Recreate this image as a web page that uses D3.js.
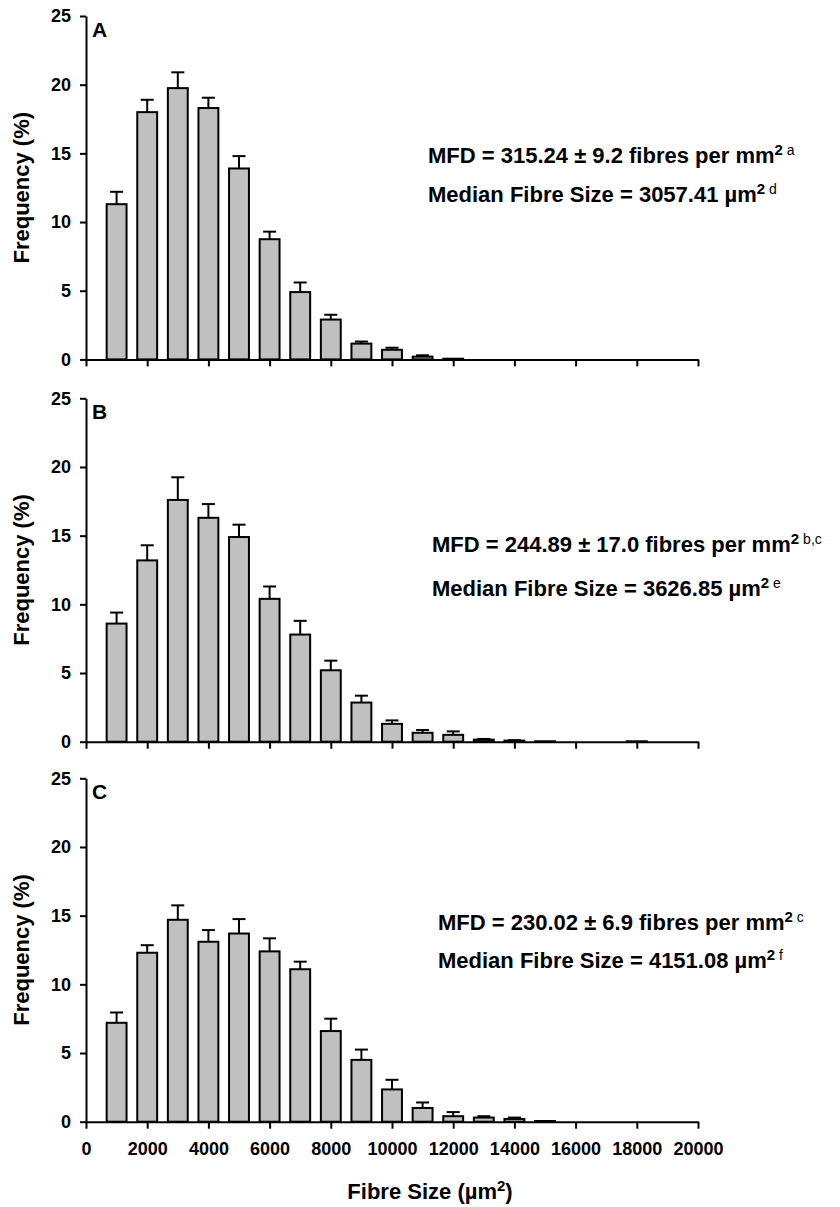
<!DOCTYPE html>
<html>
<head>
<meta charset="utf-8">
<script src="https://cdn.jsdelivr.net/npm/d3@7"></script>
<style>
  html, body { margin: 0; padding: 0; background: #fff; }
  svg { display: block; }
  text { font-family: "Liberation Sans", Arial, sans-serif; }
</style>
</head>
<body>
<svg id="chart" width="840" height="1207"></svg>
<script>
// ---------------- DATA ----------------
const sizeBins = [1000, 2000, 3000, 4000, 5000, 6000, 7000, 8000, 9000, 10000,
                  11000, 12000, 13000, 14000, 15000, 16000, 17000, 18000];

const panelLabels = ["A", "B", "C"];

const meanA = [11.3, 18.0, 19.75, 18.3, 13.9, 8.75, 4.9, 2.9, 1.15, 0.7, 0.2, 0.05, 0, 0, 0, 0, 0, 0];
const semA  = [0.9, 0.9, 1.15, 0.75, 0.9, 0.55, 0.7, 0.35, 0.15, 0.15, 0.1, 0, 0, 0, 0, 0, 0, 0];

const meanB = [8.6, 13.2, 17.6, 16.3, 14.9, 10.4, 7.8, 5.2, 2.85, 1.3, 0.65, 0.5, 0.15, 0.08, 0.03, 0, 0, 0.03];
const semB  = [0.8, 1.1, 1.65, 1.0, 0.9, 0.9, 1.0, 0.7, 0.5, 0.25, 0.2, 0.25, 0.05, 0.03, 0, 0, 0, 0];

const meanC = [7.2, 12.3, 14.7, 13.1, 13.7, 12.4, 11.1, 6.6, 4.5, 2.35, 1.0, 0.4, 0.3, 0.2, 0.05, 0, 0, 0];
const semC  = [0.75, 0.55, 1.05, 0.85, 1.05, 0.95, 0.55, 0.9, 0.75, 0.7, 0.4, 0.3, 0.1, 0.1, 0, 0, 0, 0];

const yTicks = [0, 5, 10, 15, 20, 25];
const xTicks = [0, 2000, 4000, 6000, 8000, 10000, 12000, 14000, 16000, 18000, 20000];

const mfdText    = ["MFD = 315.24 ± 9.2 fibres per mm", "MFD = 244.89 ± 17.0 fibres per mm", "MFD = 230.02 ± 6.9 fibres per mm"];
const mfdSup     = ["a", "b,c", "c"];
const medianText = ["Median Fibre Size = 3057.41 µm", "Median Fibre Size = 3626.85 µm", "Median Fibre Size = 4151.08 µm"];
const medianSup  = ["d", "e", "f"];

const yTitle = "Frequency (%)";
const xTitle = "Fibre Size (µm";

// ---------------- LAYOUT ----------------
const svg = d3.select("#chart");
const panelTops = [16, 398.3, 778.3];
const panelH = 343.4;
const x0 = 86, x1 = 698;
const barWidthUnits = 650;

const annotPos = [
  { x: 428, y1: 163, y2: 202 },
  { x: 432, y1: 552, y2: 596 },
  { x: 438, y1: 930, y2: 968 }
];

const x = d3.scaleLinear().domain([0, 20000]).range([x0, x1]);

const panels = [
  { mean: meanA, sem: semA },
  { mean: meanB, sem: semB },
  { mean: meanC, sem: semC }
];

panels.forEach((p, i) => {
  const top = panelTops[i];
  const y = d3.scaleLinear().domain([0, 25]).range([top + panelH, top]);
  const g = svg.append("g");

  const data = sizeBins.map((b, k) => ({ bin: b, v: p.mean[k], e: p.sem[k] })).filter(d => d.v > 0);

  // bars
  const bw = x(barWidthUnits) - x(0);
  g.selectAll("rect.bar").data(data).join("rect")
    .attr("class", "bar")
    .attr("x", d => x(d.bin) - bw / 2)
    .attr("y", d => y(d.v))
    .attr("width", bw)
    .attr("height", d => y(0) - y(d.v))
    .attr("fill", "#c0c0c0")
    .attr("stroke", "#000")
    .attr("stroke-width", 2);

  // error bars (upper only)
  const eb = data.filter(d => d.e > 0);
  const capW = 13;
  g.selectAll("line.err").data(eb).join("line")
    .attr("x1", d => x(d.bin)).attr("x2", d => x(d.bin))
    .attr("y1", d => y(d.v)).attr("y2", d => y(d.v + d.e))
    .attr("stroke", "#000").attr("stroke-width", 2);
  g.selectAll("line.cap").data(eb).join("line")
    .attr("x1", d => x(d.bin) - capW / 2).attr("x2", d => x(d.bin) + capW / 2)
    .attr("y1", d => y(d.v + d.e)).attr("y2", d => y(d.v + d.e))
    .attr("stroke", "#000").attr("stroke-width", 2);

  // y axis
  const yAxis = g.append("g").attr("transform", `translate(${x0},0)`)
    .call(d3.axisLeft(y).tickValues(yTicks).tickSize(6).tickPadding(9).tickSizeOuter(0));
  // x axis
  const xAxis = g.append("g").attr("transform", `translate(0,${y(0)})`)
    .call(d3.axisBottom(x).tickValues(xTicks).tickSize(7).tickPadding(13.5).tickSizeOuter(0)
      .tickFormat(i === 2 ? d3.format("d") : () => ""));

  [yAxis, xAxis].forEach(a => {
    a.select(".domain").attr("stroke", "#000").attr("stroke-width", 2);
    a.selectAll(".tick line").attr("stroke", "#000").attr("stroke-width", 2);
    a.selectAll(".tick text")
      .attr("fill", "#000")
      .style("font-family", '"Liberation Sans", Arial, sans-serif')
      .style("font-weight", "bold")
      .style("font-size", "18px");
  });

  // y title
  g.append("text")
    .attr("transform", `translate(28.5,${top + panelH / 2}) rotate(-90)`)
    .attr("text-anchor", "middle")
    .style("font-weight", "bold").style("font-size", "22px")
    .text(yTitle);

  // panel label
  g.append("text")
    .attr("x", 92).attr("y", top + 21)
    .style("font-weight", "bold").style("font-size", "21px")
    .text(panelLabels[i]);

  // annotations
  const a = annotPos[i];
  const t1 = g.append("text").attr("x", a.x).attr("y", a.y1)
    .style("font-weight", "bold").style("font-size", "22px");
  t1.append("tspan").text(mfdText[i]);
  t1.append("tspan").attr("dy", -8).style("font-size", "15px").text("2");
  t1.append("tspan").attr("dx", 4).style("font-size", "14px").style("font-weight", "normal").text(mfdSup[i]);

  const t2 = g.append("text").attr("x", a.x).attr("y", a.y2)
    .style("font-weight", "bold").style("font-size", "22px");
  t2.append("tspan").text(medianText[i]);
  t2.append("tspan").attr("dy", -8).style("font-size", "15px").text("2");
  t2.append("tspan").attr("dx", 4).style("font-size", "14px").style("font-weight", "normal").text(medianSup[i]);
});

// x title
const xt = svg.append("text")
  .attr("x", 430).attr("y", 1199)
  .attr("text-anchor", "middle")
  .style("font-weight", "bold").style("font-size", "22px");
xt.append("tspan").text(xTitle);
xt.append("tspan").attr("dy", -8).style("font-size", "15px").text("2");
xt.append("tspan").attr("dy", 8).text(")");
</script>
</body>
</html>
